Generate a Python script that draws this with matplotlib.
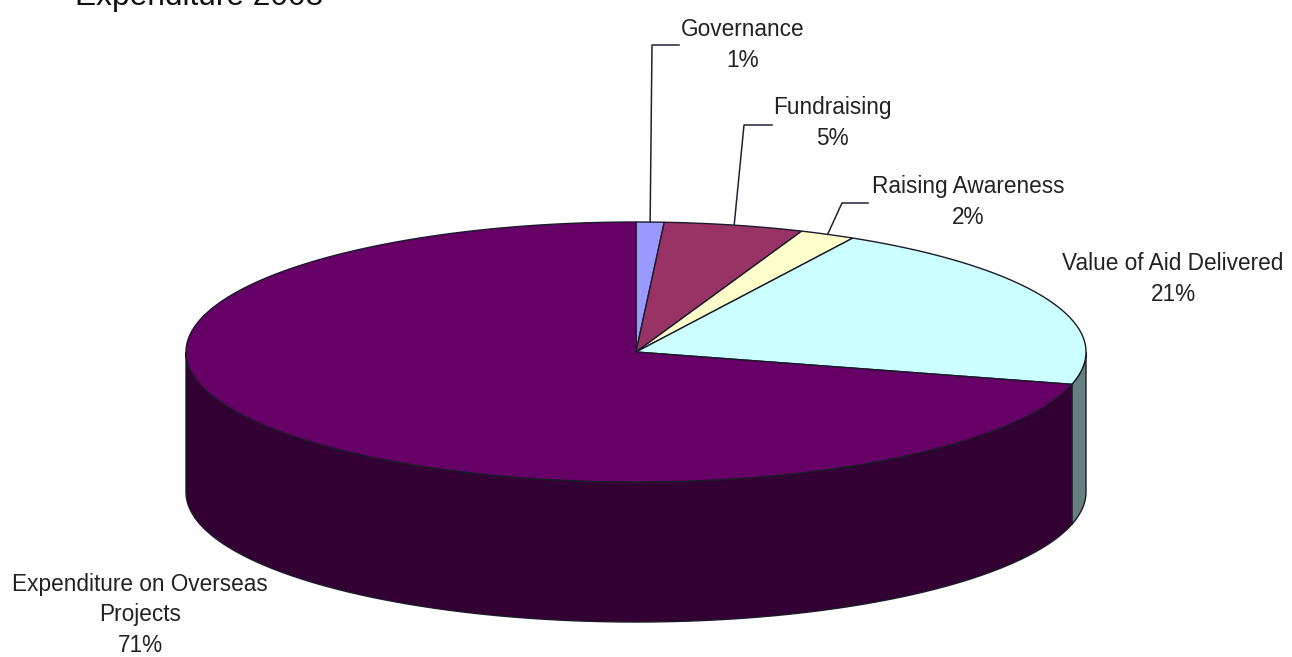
import numpy as np
import matplotlib
matplotlib.use("Agg")
import matplotlib.pyplot as plt
from matplotlib import font_manager
from matplotlib.patches import Polygon

# Slices, clockwise from twelve o'clock
labels = ["Governance", "Fundraising", "Raising Awareness", "Value of Aid Delivered",
          "Expenditure on Overseas\nProjects"]
values = [1, 5, 2, 21, 71]
top_colors = ["#9999ff", "#993366", "#ffffcc", "#ccffff", "#660066"]
side_colors = ["#4d4d80", "#4d1a33", "#808066", "#668080", "#330033"]

title = "Expenditure 2008"

# Pie geometry, in pixels
CX, CY = 636, 352
RX, RY = 450, 130
DEPTH = 140

# Label centres and leader elbows
label_pos = [(743, 45), (832, 123), (968, 202), (1173, 279), (140, 615)]
elbows = [[(652, 45), (679, 45)], [(744, 125), (772, 125)], [(842, 203), (868, 203)], None, None]

EDGE = "#1a1a2a"
plt.rcParams["font.family"] = ["Liberation Sans", "DejaVu Sans"]

# narrow face for the slice labels if it is there
installed = {f.name for f in font_manager.fontManager.ttflist}
if "Liberation Sans Narrow" in installed:
    label_font, label_size = "Liberation Sans Narrow", 20
else:
    label_font, label_size = "Liberation Sans", 16.3

fig = plt.figure(figsize=(12.92, 6.57), dpi=100)
ax = fig.add_axes([0, 0, 1, 1])
ax.set_xlim(0, 1292)
ax.set_ylim(657, 0)
ax.axis("off")


def rim(a0, a1, dy=0):
    # points on the ellipse, angles in degrees clockwise from the top
    t = np.radians(np.linspace(a0, a1, max(int(abs(a1 - a0) * 2), 2)))
    return np.column_stack([CX + RX * np.sin(t), CY + dy - RY * np.cos(t)])


angles = np.concatenate([[0], np.cumsum(values) * 3.6])

# Side wall only shows on the front half of the ellipse
for i in range(len(values)):
    a0 = max(angles[i], 90)
    a1 = min(angles[i + 1], 270)
    if a1 <= a0:
        continue
    pts = np.vstack([rim(a0, a1), rim(a0, a1, DEPTH)[::-1]])
    ax.add_patch(Polygon(pts, closed=True, fc=side_colors[i], ec=EDGE, lw=1.0, zorder=2))

# Top face
for i in range(len(values)):
    pts = np.vstack([[(CX, CY)], rim(angles[i], angles[i + 1])])
    ax.add_patch(Polygon(pts, closed=True, fc=top_colors[i], ec=EDGE, lw=1.0, zorder=3))

# Labels and leader lines
for i, name in enumerate(labels):
    x, y = label_pos[i]
    ax.text(x, y, f"{name}\n{values[i]}%", ha="center", va="center", fontsize=label_size,
            family=[label_font, "DejaVu Sans"], color="#222222", linespacing=1.4, zorder=5)
    if elbows[i] is not None:
        mid = (angles[i] + angles[i + 1]) / 2
        start = rim(mid, mid + 0.01)[0]
        path = np.vstack([start, elbows[i]])
        ax.plot(path[:, 0], path[:, 1], color="#222233", lw=1.1, zorder=4)

# sits right at the top edge of the figure
ax.text(75, 5.5, title, ha="left", va="baseline", fontsize=22.8, color="#111111")

fig.savefig("out.png", dpi=100)
